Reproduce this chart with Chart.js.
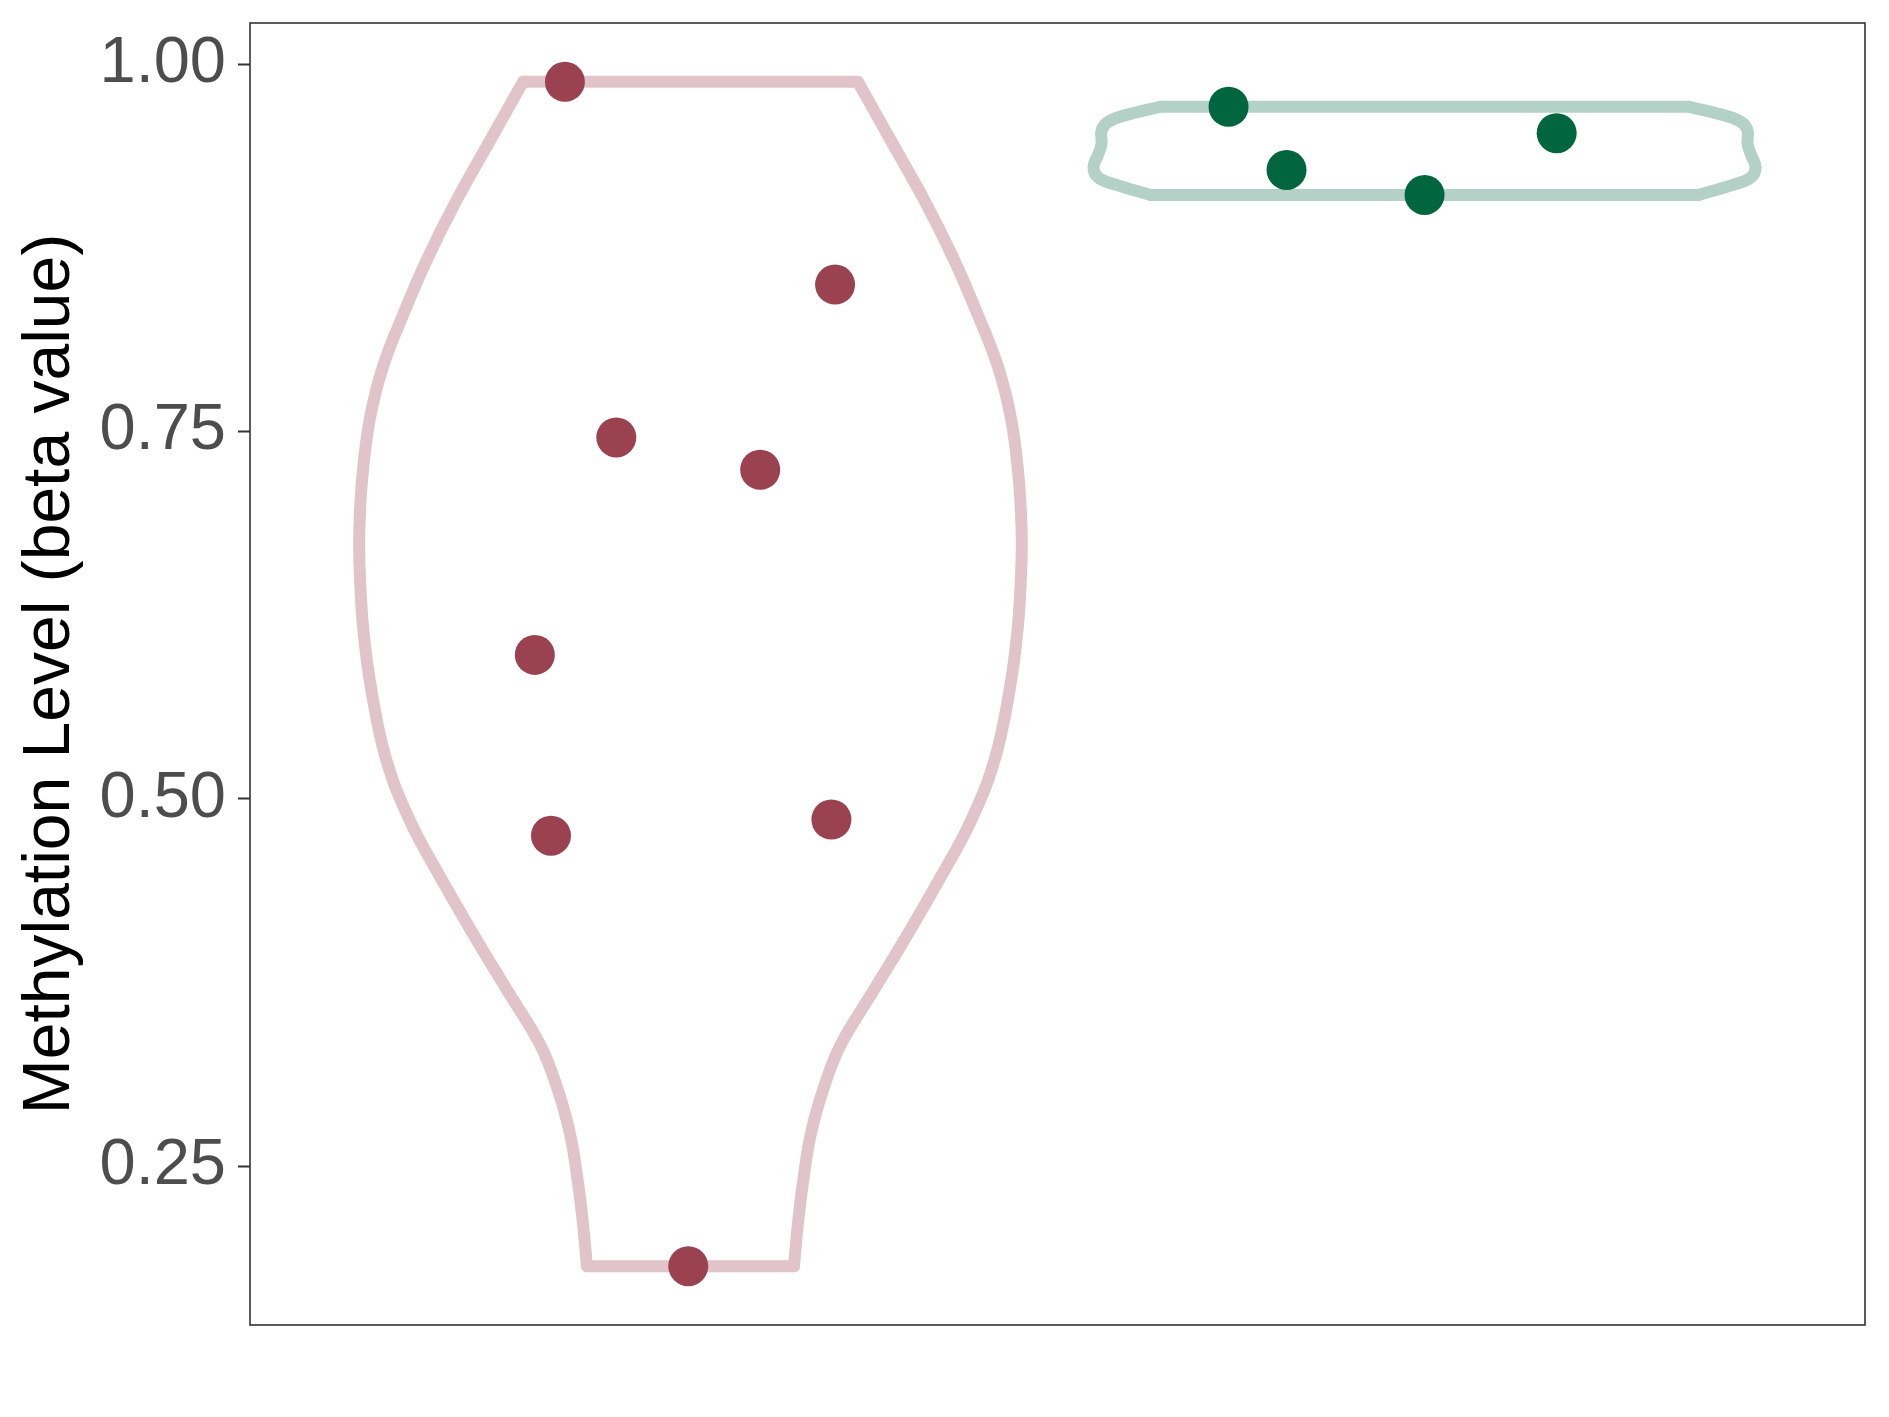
<!DOCTYPE html>
<html>
<head>
<meta charset="utf-8">
<script src="https://cdn.jsdelivr.net/npm/chart.js@4.4.1/dist/chart.umd.min.js"></script>
<style>
  html, body { margin: 0; padding: 0; background: #fff; }
  #wrap { width: 1889px; height: 1417px; }
</style>
</head>
<body>
<div id="wrap"><canvas id="grafica" width="1889" height="1417"></canvas></div>
<script>
// datos
var yTicks = [0.25, 0.50, 0.75, 1.00];
var centros = [1, 2];

// contorno del violin rojo (valor y, medio ancho en unidades de categoria)
var violinRojoY = [0.988, 0.948, 0.907, 0.867, 0.830, 0.794, 0.758, 0.719, 0.685, 0.662, 0.617, 0.572, 0.526, 0.485, 0.447, 0.408, 0.370, 0.333, 0.304, 0.272, 0.238, 0.209, 0.182];
var violinRojoAncho = [0.228, 0.273, 0.319, 0.359, 0.391, 0.419, 0.437, 0.447, 0.451, 0.451, 0.446, 0.434, 0.414, 0.382, 0.341, 0.296, 0.250, 0.205, 0.182, 0.164, 0.153, 0.146, 0.141];

// contorno del violin verde
var violinVerdeY = [0.971, 0.966, 0.961, 0.955, 0.946, 0.938, 0.930, 0.923, 0.918, 0.911];
var violinVerdeAncho = [0.360, 0.402, 0.430, 0.440, 0.440, 0.445, 0.451, 0.445, 0.421, 0.373];

// puntos (posicion con jitter y valor beta)
var rojoX = [0.829, 1.197, 0.899, 1.095, 0.788, 1.192, 0.810, 0.997];
var rojoVal = [0.988, 0.850, 0.746, 0.724, 0.598, 0.486, 0.475, 0.182];
var verdeX = [1.733, 1.812, 2.000, 2.180];
var verdeVal = [0.971, 0.928, 0.911, 0.953];

var colorRojo = "#9a4250";
var lineaRojo = "#e0c4ca";
var colorVerde = "#01663f";
var lineaVerde = "#b4d1c7";

// arma los lados del violin como datasets separados (esquinas rectas arriba y abajo)
function armarViolin(centro, ys, anchos, color) {
  var izq = [], der = [];
  for (let i = 0; i < ys.length; i++) {
    izq.push({x: centro - anchos[i], y: ys[i]});
    der.push({x: centro + anchos[i], y: ys[i]});
  }
  var n = ys.length - 1;
  var base = {type: "scatter", showLine: true, fill: false, pointRadius: 0, pointHoverRadius: 0,
              borderColor: color, borderWidth: 12, borderCapStyle: "round", borderJoinStyle: "round", order: 2};
  return [
    Object.assign({}, base, {data: izq, tension: 0.4}),
    Object.assign({}, base, {data: der, tension: 0.4}),
    Object.assign({}, base, {data: [izq[0], der[0]], tension: 0}),
    Object.assign({}, base, {data: [izq[n], der[n]], tension: 0})
  ];
}

function armarPuntos(xs, vals, color) {
  var datos = [];
  for (let i = 0; i < xs.length; i++) {
    datos.push({x: xs[i], y: vals[i]});
  }
  return {type: "scatter", data: datos, pointRadius: 20, pointHoverRadius: 20,
          backgroundColor: color, borderColor: color, borderWidth: 0, order: 0};
}

var conjuntos = []
  .concat(armarViolin(centros[0], violinRojoY, violinRojoAncho, lineaRojo))
  .concat(armarViolin(centros[1], violinVerdeY, violinVerdeAncho, lineaVerde));
conjuntos.push(armarPuntos(rojoX, rojoVal, colorRojo));
conjuntos.push(armarPuntos(verdeX, verdeVal, colorVerde));

// marco del panel
var marco = {
  id: "marco",
  beforeDatasetsDraw: function (chart) {
    var a = chart.chartArea, ctx = chart.ctx;
    ctx.save();
    ctx.strokeStyle = "#333333";
    ctx.lineWidth = 1.6;
    ctx.strokeRect(a.left, a.top, a.right - a.left, a.bottom - a.top);
    ctx.restore();
  }
};

var ctx = document.getElementById("grafica").getContext("2d");
var grafica = new Chart(ctx, {
  type: "scatter",
  data: { datasets: conjuntos },
  plugins: [marco],
  options: {
    responsive: false,
    animation: false,
    devicePixelRatio: 1,
    layout: { padding: { left: 0, top: 23, right: 24, bottom: 92 } },
    plugins: { legend: { display: false }, tooltip: { enabled: false } },
    scales: {
      x: { type: "linear", min: 0.4, max: 2.6, display: false },
      y: {
        type: "linear", min: 0.142, max: 1.028,
        afterBuildTicks: function (scale) {
          scale.ticks = yTicks.map(function (v) { return {value: v}; });
        },
        afterFit: function (scale) {
          scale.width = 250;
          scale.paddingTop = 0;
          scale.paddingBottom = 0;
        },
        border: { display: false },
        grid: { drawOnChartArea: false, drawTicks: true, tickLength: 12, tickColor: "#333333", tickWidth: 2 },
        ticks: {
          padding: 12,
          color: "#4d4d4d",
          font: { family: "'Liberation Sans', Arial, sans-serif", size: 65 },
          callback: function (v) { return Number(v).toFixed(2); }
        },
        title: {
          display: true,
          text: "Methylation Level (beta value)",
          color: "#000000",
          font: { family: "'Liberation Sans', Arial, sans-serif", size: 66 },
          padding: { top: 11, bottom: 0 }
        }
      }
    }
  }
});
</script>
</body>
</html>
